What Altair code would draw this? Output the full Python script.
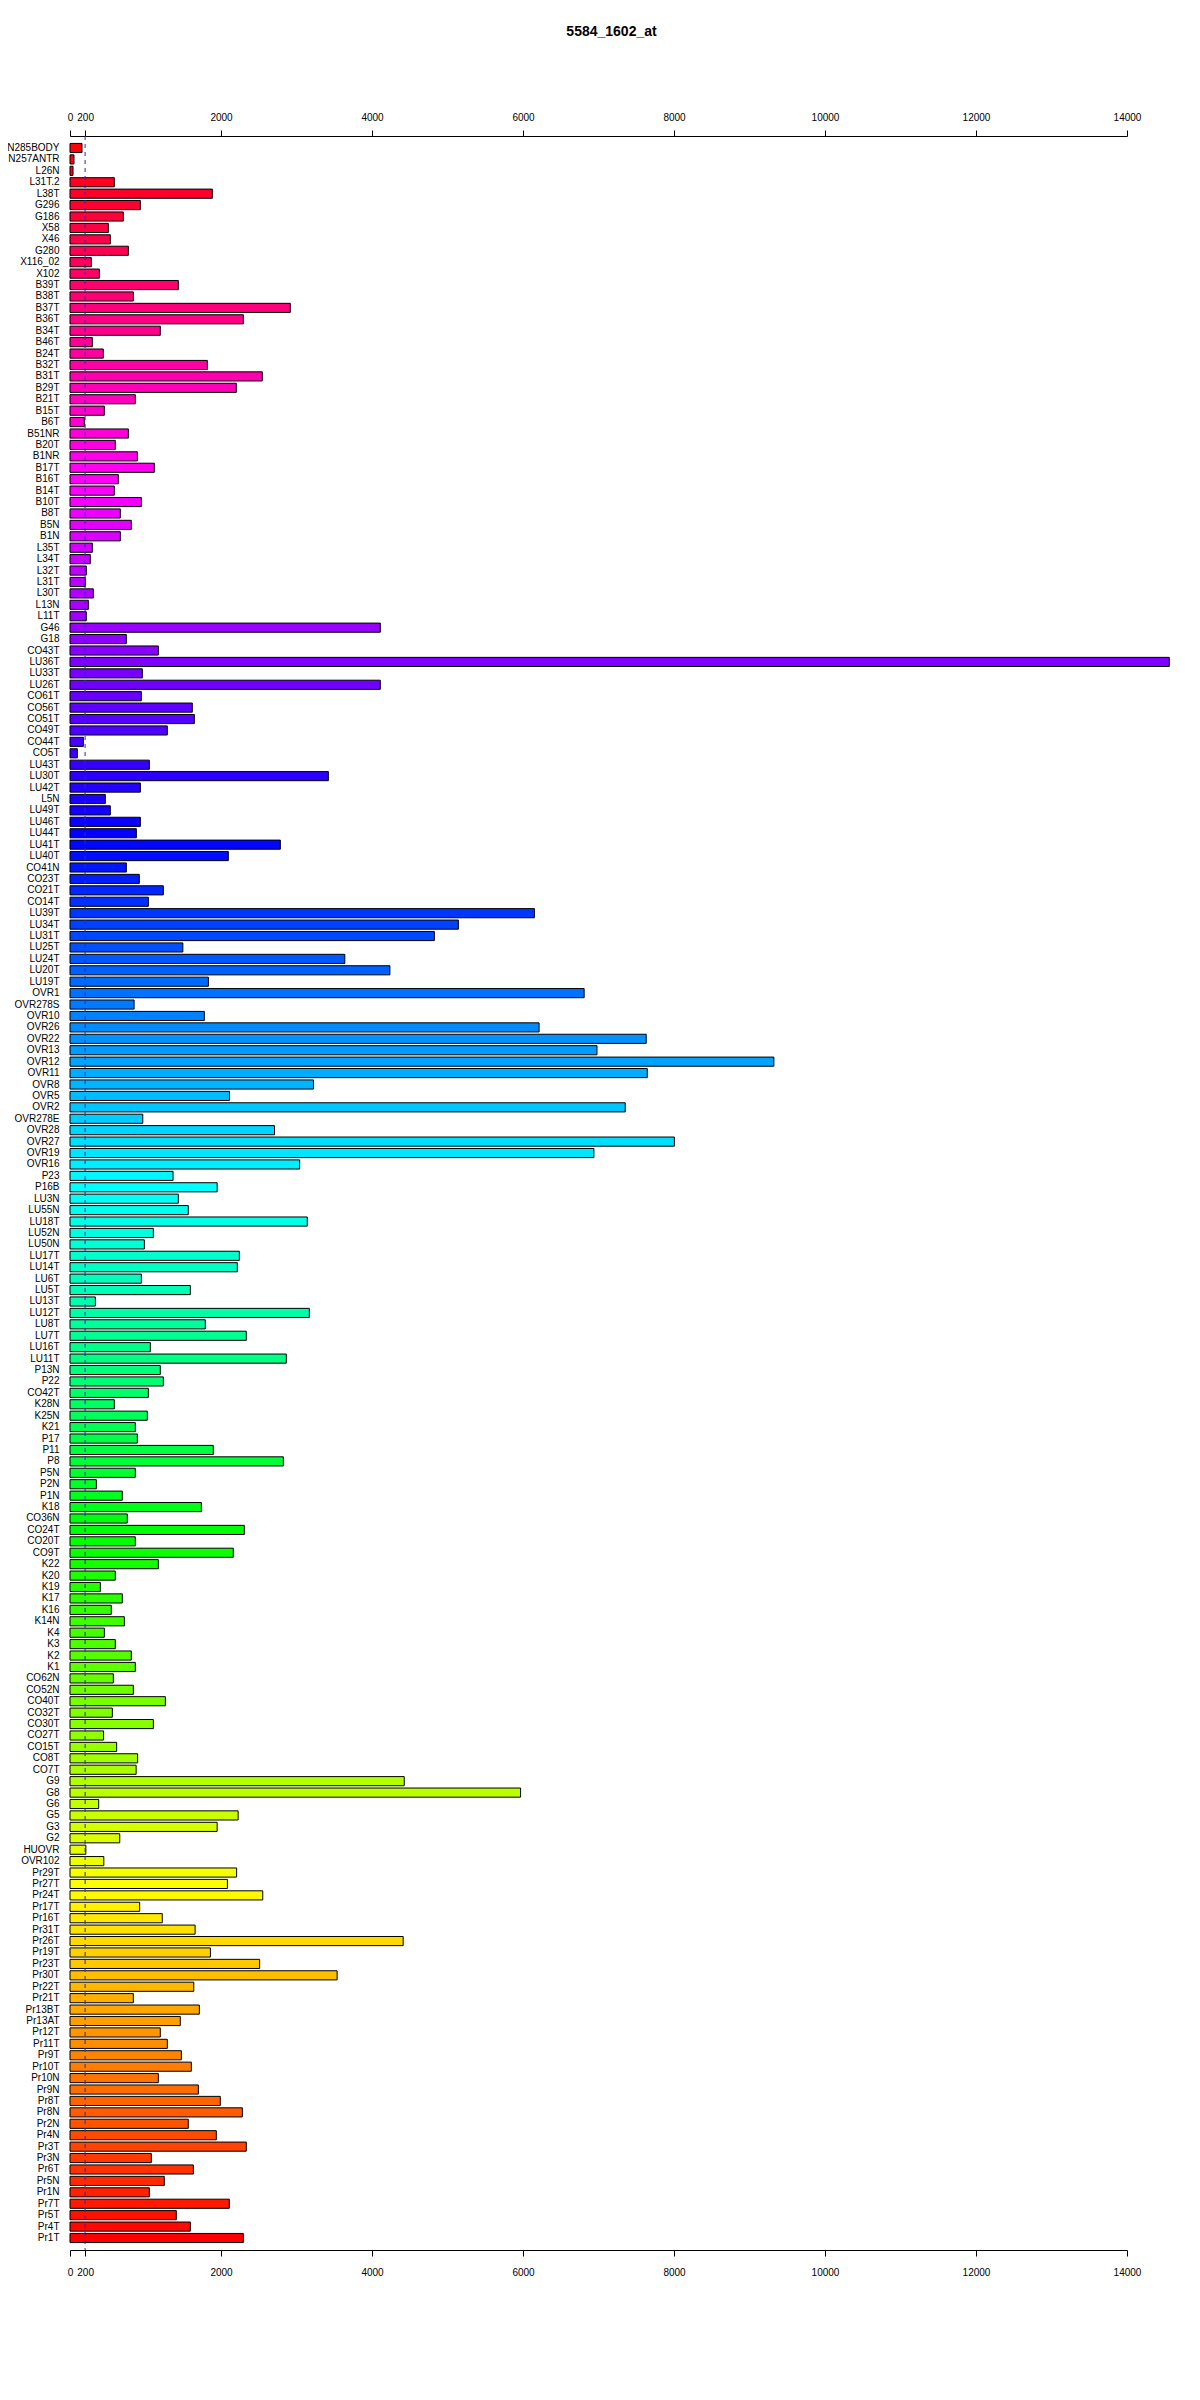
import colorsys
import altair as alt
import pandas as pd

# Sample names (top to bottom) and expression values, in groups
g1_labels = ["N285BODY", "N257ANTR", "L26N", "L31T.2", "L38T", "G296", "G186", "X58", "X46", "G280",
             "X116_02", "X102", "B39T", "B38T", "B37T", "B36T", "B34T", "B46T", "B24T", "B32T",
             "B31T", "B29T", "B21T", "B15T", "B6T", "B51NR", "B20T", "B1NR", "B17T", "B16T",
             "B14T", "B10T", "B8T", "B5N", "B1N", "L35T", "L34T", "L32T", "L31T", "L30T",
             "L13N", "L11T", "G46", "G18", "CO43T", "LU36T"]
g1_values = [159, 53, 40, 587, 1885, 932, 706, 508, 534, 773,
             283, 389, 1435, 839, 2918, 2296, 1196, 296, 441, 1819,
             2547, 2203, 865, 455, 190, 773, 600, 892, 1117, 640,
             587, 945, 667, 812, 667, 296, 269, 216, 203, 309,
             243, 216, 4110, 746, 1170, 14560]

g2_labels = ["LU33T", "LU26T", "CO61T", "CO56T", "CO51T", "CO49T", "CO44T", "CO5T", "LU43T", "LU30T",
             "LU42T", "L5N", "LU49T", "LU46T", "LU44T", "LU41T", "LU40T", "CO41N", "CO23T", "CO21T",
             "CO14T", "LU39T", "LU34T", "LU31T", "LU25T", "LU24T", "LU20T", "LU19T", "OVR1", "OVR278S",
             "OVR10", "OVR26", "OVR22", "OVR13", "OVR12", "OVR11", "OVR8", "OVR5", "OVR2", "OVR278E",
             "OVR28", "OVR27", "OVR19", "OVR16", "P23", "P16B"]
g2_values = [958, 4110, 945, 1620, 1647, 1289, 177, 97, 1051, 3422,
             932, 468, 534, 932, 879, 2786, 2097, 746, 918, 1236,
             1038, 6151, 5144, 4826, 1495, 3640, 4237, 1833, 6810, 849,
             1779, 6213, 7632, 6980, 9323, 7646, 3225, 2112, 7354, 964,
             2709, 8005, 6939, 3042, 1365, 1949]

g3_labels = ["LU3N", "LU55N", "LU18T", "LU52N", "LU50N", "LU17T", "LU14T", "LU6T", "LU5T", "LU13T",
             "LU12T", "LU8T", "LU7T", "LU16T", "LU11T", "P13N", "P22", "CO42T", "K28N", "K25N",
             "K21", "P17", "P11", "P8", "P5N", "P2N", "P1N", "K18", "CO36N", "CO24T",
             "CO20T", "CO9T", "K22", "K20", "K19", "K17", "K16", "K14N", "K4", "K3",
             "K2", "K1", "CO62N", "CO52N", "CO40T", "CO32T"]
g3_values = [1435, 1567, 3143, 1104, 985, 2243, 2216, 945, 1594, 336,
             3170, 1792, 2335, 1064, 2865, 1196, 1236, 1038, 587, 1024,
             865, 892, 1898, 2826, 865, 349, 693, 1740, 759, 2309,
             865, 2163, 1170, 600, 402, 693, 547, 720, 455, 600,
             812, 865, 574, 839, 1263, 561]

g4_labels = ["CO30T", "CO27T", "CO15T", "CO8T", "CO7T", "G9", "G8", "G6", "G5", "G3",
             "G2", "HUOVR", "OVR102", "Pr29T", "Pr27T", "Pr24T", "Pr17T", "Pr16T", "Pr31T", "Pr26T",
             "Pr19T", "Pr23T", "Pr30T", "Pr22T", "Pr21T", "Pr13BT", "Pr13AT", "Pr12T", "Pr11T", "Pr9T",
             "Pr10T", "Pr10N", "Pr9N", "Pr8T", "Pr8N", "Pr2N", "Pr4N", "Pr3T", "Pr3N", "Pr6T",
             "Pr5N", "Pr1N", "Pr7T", "Pr5T", "Pr4T", "Pr1T"]
g4_values = [1104, 445, 618, 896, 876, 4427, 5968, 380, 2227, 1949,
             659, 210, 448, 2207, 2085, 2553, 923, 1222, 1657, 4413,
             1860, 2512, 3538, 1640, 839, 1713, 1461, 1196, 1289, 1475,
             1607, 1170, 1700, 1991, 2283, 1567, 1938, 2335, 1077, 1634,
             1249, 1051, 2110, 1408, 1594, 2296]

x_ticks = [0, 200, 2000, 4000, 6000, 8000, 10000, 12000, 14000]
threshold = [200]

labels = g1_labels + g2_labels + g3_labels + g4_labels
values = g1_values + g2_values + g3_values + g4_values
n = len(labels)

# R rainbow(n): first bar (bottom) hue 0, increasing upward
def hexcol(h):
    r, g, b = colorsys.hsv_to_rgb(h, 1.0, 1.0)
    return "#%02x%02x%02x" % (round(r * 255), round(g * 255), round(b * 255))

colors = [hexcol((n - 1 - i) / n) for i in range(n)]

df = pd.DataFrame({"label": labels, "value": values})
thr = pd.DataFrame({"v": threshold})

FONT = "Liberation Sans"
xscale = alt.Scale(domain=[0, 14000], nice=False, zero=True)

bars = alt.Chart(df).mark_bar(stroke="black", strokeWidth=1, clip=False).encode(
    y=alt.Y("label:N", sort=labels, title=None,
            scale=alt.Scale(paddingInner=0.2, paddingOuter=0.65),
            axis=alt.Axis(ticks=False, domain=False, labelPadding=11, labelFontSize=10,
                          labelFont=FONT, labelColor="black", labelOverlap=False,
                          labelLimit=200, labelBound=False)),
    x=alt.X("value:Q", scale=xscale, title=None,
            axis=alt.Axis(orient="top", values=x_ticks, format="d", tickSize=6,
                          tickColor="black", domainColor="black", labelFontSize=10,
                          labelFont=FONT, labelColor="black", labelPadding=8,
                          grid=False, labelOverlap=False, labelFlush=False)),
    color=alt.Color("label:N", scale=alt.Scale(domain=labels, range=colors), legend=None),
)

rule = alt.Chart(thr).mark_rule(color="#2a2ab8", strokeDash=[4, 4], strokeWidth=1).encode(
    x=alt.X("v:Q", scale=xscale, title=None,
            axis=alt.Axis(orient="bottom", values=x_ticks, format="d", tickSize=6,
                          tickColor="black", domainColor="black", labelFontSize=10,
                          labelFont=FONT, labelColor="black", labelPadding=11,
                          grid=False, labelOverlap=False, labelFlush=False)),
)

chart = alt.layer(bars, rule).resolve_axis(x="independent").properties(
    width=1057,
    height=2114,
    title=alt.TitleParams("5584_1602_at", fontSize=14, fontWeight="bold", font=FONT,
                          anchor="middle", dx=13, offset=73, color="black"),
    autosize=alt.AutoSizeParams(type="none"),
    padding={"left": 62, "top": 128, "right": 60, "bottom": 60},
).configure_view(stroke=None)

chart.save("out.html", embed_options={"renderer": "svg", "actions": False})
